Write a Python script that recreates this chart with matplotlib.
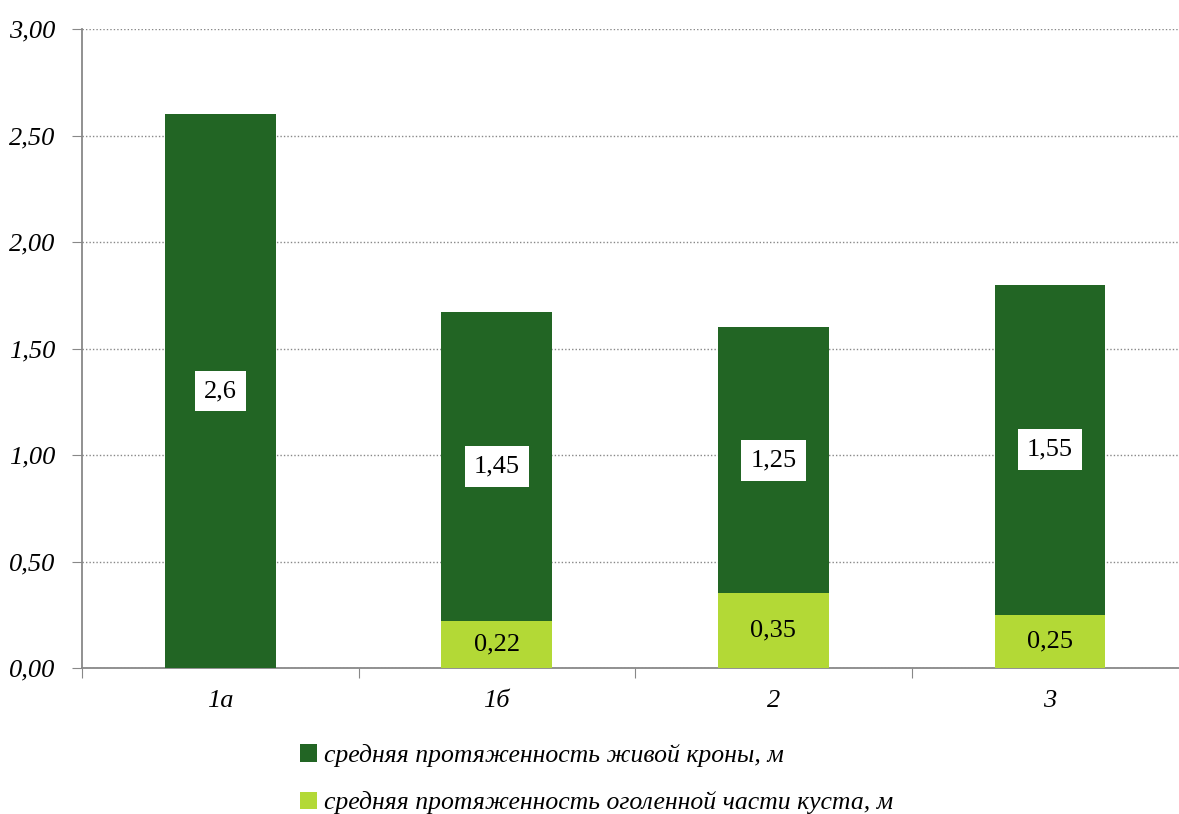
import matplotlib.pyplot as plt
from matplotlib.ticker import MultipleLocator, FuncFormatter

categories = ["1а", "1б", "2", "3"]
bare_part = [0, 0.22, 0.35, 0.25]
live_crown = [2.6, 1.45, 1.25, 1.55]
bare_labels = ["", "0,22", "0,35", "0,25"]
live_labels = ["2,6", "1,45", "1,25", "1,55"]

dark = "#226524"
light = "#b3d936"

plt.rcParams['font.family'] = ['Liberation Serif', 'DejaVu Serif']

fig = plt.figure(figsize=(11.79, 8.14), dpi=100)
ax = fig.add_axes([82 / 1179, 1 - 668 / 814, (1179 - 82) / 1179, (668 - 29) / 814])

x = list(range(len(categories)))
b1 = ax.bar(x, bare_part, width=0.4, color=light, zorder=3,
            label="средняя протяженность оголенной части куста, м")
b2 = ax.bar(x, live_crown, width=0.4, bottom=bare_part, color=dark, zorder=3,
            label="средняя протяженность живой кроны, м")

for i in x:
    if bare_labels[i]:
        ax.text(i, bare_part[i] / 2, bare_labels[i], ha='center', va='center',
                fontsize=19, zorder=4)
    ax.text(i, bare_part[i] + live_crown[i] / 2, live_labels[i], ha='center', va='center',
            fontsize=19, zorder=4,
            bbox=dict(boxstyle='square,pad=0.35', facecolor='white', edgecolor='none'))

ax.yaxis.set_major_locator(MultipleLocator(0.5))
ax.yaxis.set_major_formatter(FuncFormatter(lambda v, p: f"{v:.2f}".replace('.', ',')))
ax.set_xticks([-0.5, 0.5, 1.5, 2.5, 3.5])
ax.set_xticklabels([])
ax.set_xticks(x, minor=True)
ax.set_xticklabels(categories, minor=True, fontsize=19, style='italic')
ax.set_ylim(0, 3)
ax.set_xlim(-0.5, 3.467)
ax.tick_params(axis='x', which='minor', length=0, pad=16)
ax.tick_params(axis='x', which='major', length=7, color='#888888', direction='out')
ax.tick_params(axis='y', length=7, color='#888888', labelsize=19, pad=12)
for lab in ax.get_yticklabels():
    lab.set_style('italic')

ax.grid(axis='y', linestyle=(0, (1, 1.5)), color='#888888', linewidth=1, zorder=0)
for s in ['top', 'right']:
    ax.spines[s].set_visible(False)
ax.spines['left'].set_color('#888888')
ax.spines['bottom'].set_color('#888888')
ax.spines['left'].set_linewidth(1.3)
ax.spines['bottom'].set_linewidth(1.3)

handles = [b2, b1]
fig.legend(handles, [h.get_label() for h in handles], loc='upper left',
           bbox_to_anchor=(300 / 1179, 1 - 744 / 814), frameon=False,
           prop={'size': 18.5, 'style': 'italic'}, handlelength=0.65, handleheight=0.65,
           handletextpad=0.3, labelspacing=0.95, borderpad=0, borderaxespad=0)

fig.savefig("out.png", dpi=100)
